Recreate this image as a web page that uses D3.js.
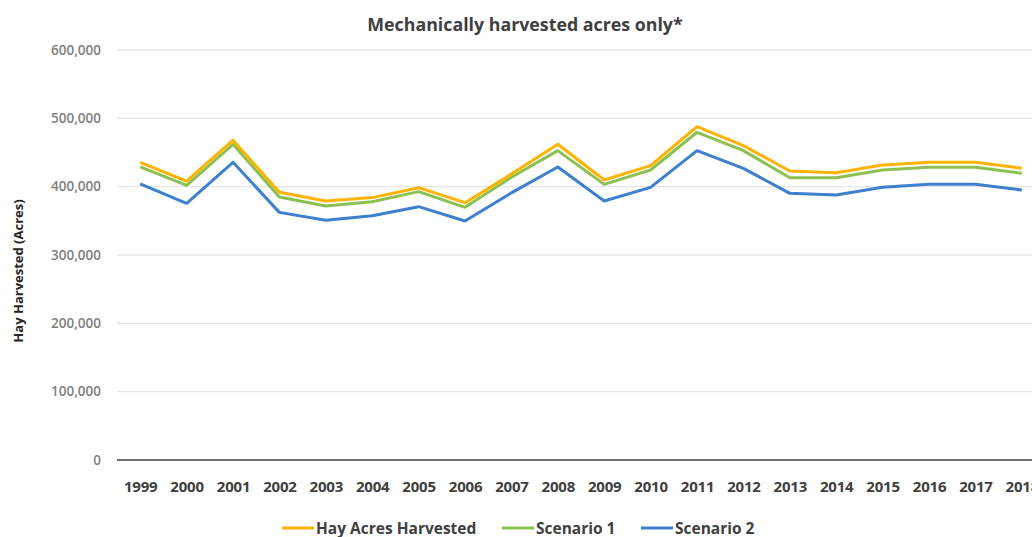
<!DOCTYPE html>
<html><head><meta charset="utf-8">
<script src="https://cdn.jsdelivr.net/npm/d3@7"></script>
<style>
html,body{margin:0;padding:0;background:#fff;overflow:hidden;}
svg{display:block;font-family:"Open Sans","Liberation Sans",sans-serif;}
</style></head>
<body><svg id="c" width="1032" height="537"></svg>
<script>
const years = ["1999","2000","2001","2002","2003","2004","2005","2006","2007","2008","2009","2010","2011","2012","2013","2014","2015","2016","2017","2018"];
const hayAcres   = [435700,408000,468000,391700,379000,384000,398500,376600,418500,462000,409800,430700,487800,460000,423000,420500,431700,435700,435700,426800];
const scenario1  = [429000,402000,462000,385000,371700,378000,392700,369800,413700,452700,403400,424400,479600,452700,413000,413000,424400,428300,428300,419600];
const scenario2  = [404000,375600,435600,362400,351000,357500,370700,349800,391000,428800,379000,399000,452700,426800,390200,387800,399000,403400,403400,395000];
const yTicks = [0,100000,200000,300000,400000,500000,600000];
const seriesNames = ["Hay Acres Harvested","Scenario 1","Scenario 2"];
const colors = ["#FFB300","#8CC152","#3F7FCF"];

const svg = d3.select("#c");
const pLeft = 117, pRight = 1045, pTop = 50, pBottom = 460;
const x = d3.scalePoint().domain(years).range([pLeft, pRight]).padding(0.5);
const y = d3.scaleLinear().domain([0, 600000]).range([pBottom, pTop]);

// gridlines
svg.append("g").selectAll("line").data(yTicks.filter(d=>d>0)).join("line")
  .attr("x1", pLeft).attr("x2", 1032)
  .attr("y1", d=>y(d)).attr("y2", d=>y(d))
  .attr("stroke", "#e0e0e0").attr("stroke-width", 1);

// y axis labels
const yAxis = d3.axisLeft(y).tickValues(yTicks).tickSize(0).tickPadding(0)
  .tickFormat(d3.format(","));
const ya = svg.append("g").attr("transform", `translate(${pLeft-16},0)`).call(yAxis);
ya.select(".domain").remove();
ya.selectAll("text").attr("fill","#808080").style("font-size","13.5px").style("font-family","'Open Sans',sans-serif").style("font-weight","600");

// x axis
const xAxis = d3.axisBottom(x).tickSize(0).tickPadding(0);
const xa = svg.append("g").attr("transform", `translate(0,${pBottom})`).call(xAxis);
xa.select(".domain").attr("stroke","#404040").attr("stroke-width",1.5).attr("d", `M${pLeft},0H1045`);
xa.selectAll("text").attr("fill","#404040").attr("dy","0").attr("y",32)
  .style("font-size","15px").style("letter-spacing","-0.2px").style("font-weight","bold").style("font-family","'Open Sans',sans-serif");

// lines
const data = [hayAcres, scenario1, scenario2];
const line = d3.line().x((d,i)=>x(years[i])).y(d=>y(d));
[2,1,0].forEach(k=>{
  svg.append("path").datum(data[k]).attr("d", line)
    .attr("fill","none").attr("stroke", colors[k]).attr("stroke-width", 3)
    .attr("stroke-linejoin","round");
});

// title
svg.append("text").attr("x", 525).attr("y", 31).attr("text-anchor","middle")
  .attr("fill","#404040").style("font-size","17.8px").style("font-weight","bold")
  .text("Mechanically harvested acres only*");

// y title
svg.append("text").attr("transform","translate(23,271) rotate(-90)").attr("text-anchor","middle")
  .attr("fill","#262626").style("font-size","13px").style("font-weight","bold")
  .text("Hay Harvested (Acres)");

// legend
const legX = [282, 502, 641];
const lg = svg.append("g");
seriesNames.forEach((n,i)=>{
  lg.append("line").attr("x1",legX[i]).attr("x2",legX[i]+32).attr("y1",528).attr("y2",528)
    .attr("stroke",colors[i]).attr("stroke-width",3);
  lg.append("text").attr("x",legX[i]+34).attr("y",533.5).attr("fill","#404040")
    .style("font-size","15.5px").style("font-weight","bold").text(n);
});
</script></body></html>
